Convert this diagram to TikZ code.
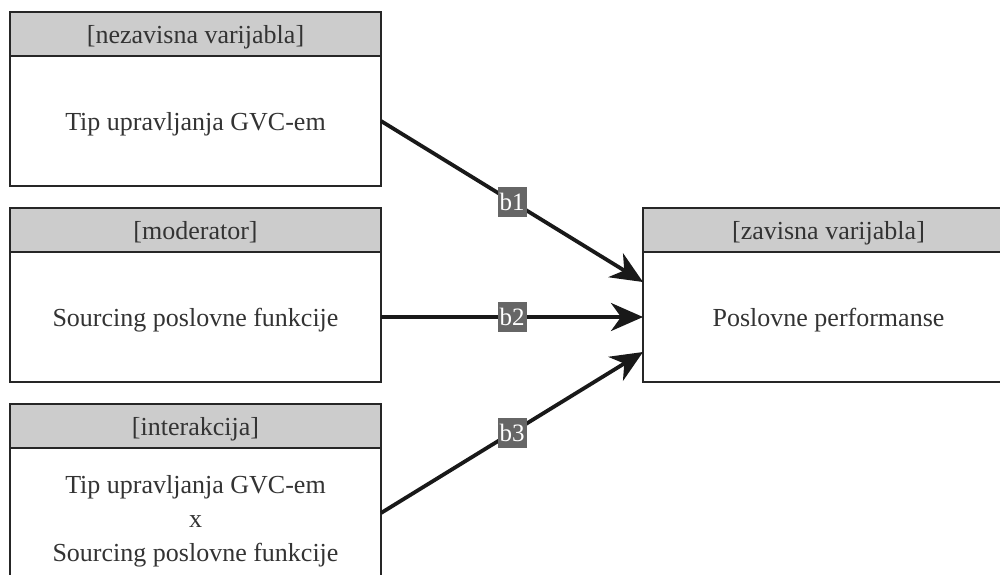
\documentclass[tikz,border=0pt]{standalone}
\usepackage{fontspec}
\setmainfont{Liberation Serif}
\usetikzlibrary{positioning,arrows.meta}

\tikzset{
  head/.style={draw=black!85, fill=black!20, line width=1.6pt, outer sep=0pt,
    minimum width=371pt, minimum height=44pt, inner sep=0pt, text depth=0pt,
    text=black!80, font=\fontsize{26}{34}\selectfont},
  body/.style={draw=black!85, fill=white, line width=1.6pt, outer sep=0pt,
    minimum width=371pt, minimum height=130pt, inner sep=0pt, align=center,
    text depth=0pt, text=black!80, font=\fontsize{26}{34}\selectfont},
  coef/.style={fill=black!60, text=white, inner sep=1pt,
    minimum width=29pt, minimum height=30pt, font=\fontsize{25}{26}\selectfont},
  link/.style={line width=3.8pt, black!90, -{Stealth[length=32pt,width=28pt,inset=10pt]}}
}

\begin{document}
\begin{tikzpicture}[x=1pt,y=-1pt]
\useasboundingbox (0,0) rectangle (1000,574);
\clip (0,0) rectangle (1000,574);

% left column
\node[head] (h1) at (195.5,34) {[nezavisna varijabla]};
\node[body, below=0pt of h1] (b1box) {Tip upravljanja GVC-em};

\node[head] (h2) at (195.5,230) {[moderator]};
\node[body, below=0pt of h2] (b2box) {Sourcing poslovne funkcije};

\node[head] (h3) at (195.5,426) {[interakcija]};
\node[body, below=0pt of h3, text height=96.5pt] (b3box) {Tip upravljanja GVC-em\\ x\\ Sourcing poslovne funkcije};

% right column
\node[head] (hr) at (828.5,230) {[zavisna varijabla]};
\node[body, below=0pt of hr] (rbox) {Poslovne performanse};

% paths
\draw[link] (b1box.east) -- node[coef] {b1} ([yshift=35pt]rbox.west);
\draw[link] (b2box.east) -- node[coef] {b2} (rbox.west);
\draw[link] (b3box.east) -- node[coef] {b3} ([yshift=-35pt]rbox.west);
\end{tikzpicture}
\end{document}
